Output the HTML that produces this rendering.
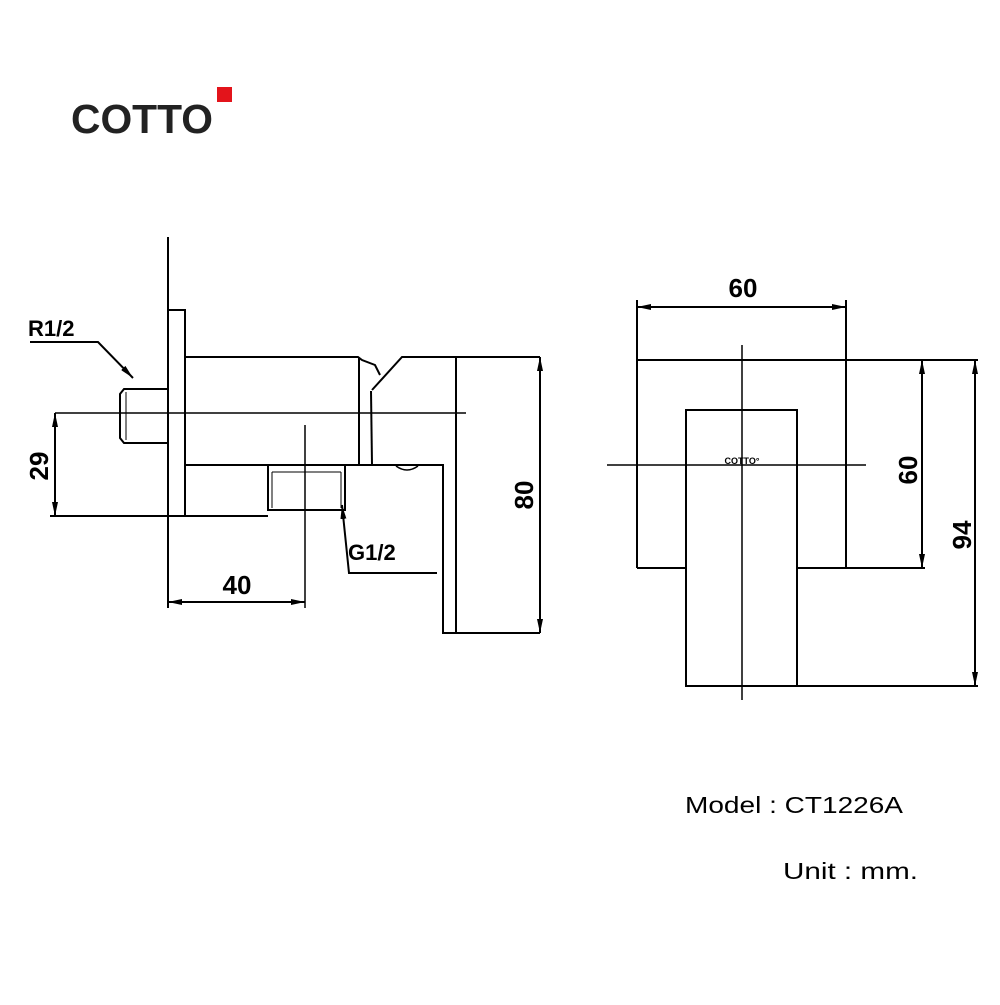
<!DOCTYPE html>
<html><head><style>
body{margin:0;background:#fff;width:1000px;height:1000px;overflow:hidden}
</style></head><body>
<svg width="1000" height="1000" viewBox="0 0 1000 1000" xmlns="http://www.w3.org/2000/svg">
<defs>
<marker id="a" viewBox="0 0 14 6" refX="14" refY="3" markerWidth="14" markerHeight="6" markerUnits="userSpaceOnUse" orient="auto-start-reverse"><path d="M0,0 L14,3 L0,6z" fill="#000"/></marker>
</defs>
<rect x="0" y="0" width="1000" height="1000" fill="#fff"/>
<text x="71" y="133" font-family="Liberation Sans, sans-serif" font-size="41" font-weight="bold" fill="#222" textLength="142" lengthAdjust="spacingAndGlyphs">COTTO</text>
<rect x="217" y="87" width="15" height="15" fill="#e3141b"/>
<g stroke="#000" stroke-width="2" fill="none">
<line x1="168" y1="237" x2="168" y2="608"/>
<polyline points="168,310 185,310 185,516 168,516"/>
<polyline points="168,389 124,389 120,394 120,438 124,443 168,443"/>
<line x1="126" y1="392" x2="126" y2="440" stroke-width="1"/>
<polyline points="185,357 358,357 362,360 375,365 380,375"/>
<line x1="359" y1="358" x2="359" y2="465"/>
<polyline points="371,391 372,465"/>
<polyline points="185,465 360,465 371,465"/>
<line x1="55" y1="413" x2="466" y2="413" stroke-width="1.5"/>
<line x1="305" y1="425" x2="305" y2="608" stroke-width="1.5"/>
<polyline points="268,465 268,510 345,510 345,465"/>
<line x1="272" y1="472" x2="341" y2="472" stroke-width="1"/>
<line x1="272" y1="472" x2="272" y2="508" stroke-width="1"/>
<line x1="341" y1="472" x2="341" y2="508" stroke-width="1"/>
<polyline points="372,390 402,357 540,357"/>
<polyline points="371,465 443,465 443,633 540,633"/>
<line x1="456" y1="357" x2="456" y2="633"/>
<path d="M396,466 Q407,474 418,466" stroke-width="1.5"/>
<line x1="50" y1="516" x2="268" y2="516"/>
<line x1="55" y1="413" x2="55" y2="516" marker-start="url(#a)" marker-end="url(#a)"/>
<line x1="168" y1="602" x2="305" y2="602" marker-start="url(#a)" marker-end="url(#a)"/>
<line x1="540" y1="357" x2="540" y2="633" marker-start="url(#a)" marker-end="url(#a)"/>
<polyline points="30,342 98,342 133,378" marker-end="url(#a)"/>
<polyline points="437,573 349,573 342,505" marker-end="url(#a)"/>
<line x1="637" y1="307" x2="846" y2="307" marker-start="url(#a)" marker-end="url(#a)"/>
<line x1="637" y1="300" x2="637" y2="568"/>
<line x1="846" y1="300" x2="846" y2="568"/>
<line x1="637" y1="360" x2="978" y2="360"/>
<line x1="637" y1="568" x2="686" y2="568"/>
<line x1="797" y1="568" x2="925" y2="568"/>
<rect x="686" y="410" width="111" height="276"/>
<line x1="797" y1="686" x2="978" y2="686"/>
<line x1="742" y1="345" x2="742" y2="700" stroke-width="1.5"/>
<line x1="607" y1="465" x2="866" y2="465" stroke-width="1.5"/>
<line x1="922" y1="360" x2="922" y2="568" marker-start="url(#a)" marker-end="url(#a)"/>
<line x1="975" y1="360" x2="975" y2="686" marker-start="url(#a)" marker-end="url(#a)"/>
</g>
<g font-family="Liberation Sans, sans-serif" font-weight="bold" fill="#000">
<text x="28" y="336" font-size="22">R1/2</text>
<text x="348" y="560" font-size="22">G1/2</text>
<text x="237" y="594" font-size="26" text-anchor="middle">40</text>
<text x="743" y="297" font-size="26" text-anchor="middle">60</text>
<text transform="translate(48,466) rotate(-90)" font-size="26" text-anchor="middle">29</text>
<text transform="translate(533,495) rotate(-90)" font-size="26" text-anchor="middle">80</text>
<text transform="translate(917,470) rotate(-90)" font-size="26" text-anchor="middle">60</text>
<text transform="translate(971,535) rotate(-90)" font-size="26" text-anchor="middle">94</text>
<text x="742" y="464" font-size="9" text-anchor="middle">COTTO°</text>
</g>
<g font-family="Liberation Sans, sans-serif" font-size="23" fill="#000">
<text x="685" y="813" textLength="218" lengthAdjust="spacingAndGlyphs">Model : CT1226A</text>
<text x="783" y="879" textLength="135" lengthAdjust="spacingAndGlyphs">Unit : mm.</text>
</g>
</svg>
</body></html>
